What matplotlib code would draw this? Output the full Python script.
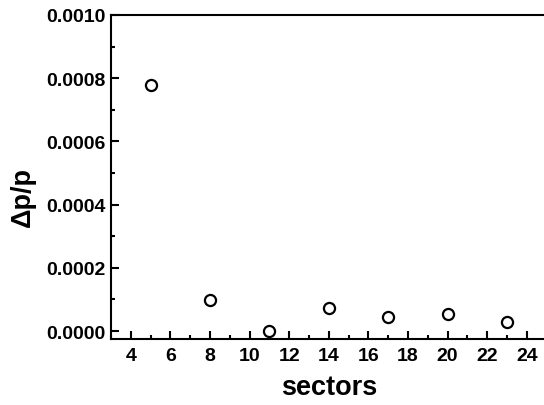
import matplotlib
matplotlib.use('Agg')
import matplotlib.pyplot as plt
from matplotlib.ticker import MultipleLocator

plt.rcParams['font.family'] = ['Liberation Sans', 'DejaVu Sans']
plt.rcParams['font.weight'] = 'bold'

sectors = [5, 8, 11, 14, 17, 20, 23]
dpp = [0.00078, 0.000099, -0.000001, 0.0000735, 0.0000435, 0.000053, 0.0000275]

fig = plt.figure(figsize=(5.44, 4.06), dpi=100)
ax = fig.add_axes([111 / 544, 1 - 340 / 406, (546.5 - 111) / 544, (340 - 16) / 406])

ax.plot(sectors, dpp, 'o', mfc='white', mec='black', ms=8, mew=1.6, clip_on=False)

ax.set_xlim(3, 25)
ax.set_ylim(-0.000025, 0.001)
ax.xaxis.set_major_locator(MultipleLocator(2))
ax.xaxis.set_minor_locator(MultipleLocator(1))
ax.yaxis.set_major_locator(MultipleLocator(0.0002))
ax.yaxis.set_minor_locator(MultipleLocator(0.0001))
ax.yaxis.set_major_formatter(plt.FormatStrFormatter('%.4f'))

for s in ax.spines.values():
    s.set_linewidth(1.5)
ax.tick_params(which='major', direction='in', length=6, width=1.5, labelsize=14, pad=6)
ax.tick_params(which='minor', direction='in', length=3, width=1.5)
ax.tick_params(axis='y', which='major', pad=4)

ax.set_xlabel('sectors', fontsize=19.5, fontweight='bold', labelpad=7)
ax.set_ylabel('Δp/p', fontsize=19.5, fontweight='bold')
ax.yaxis.set_label_coords(-0.172, 0.44)

fig.savefig('out.png', dpi=100)
